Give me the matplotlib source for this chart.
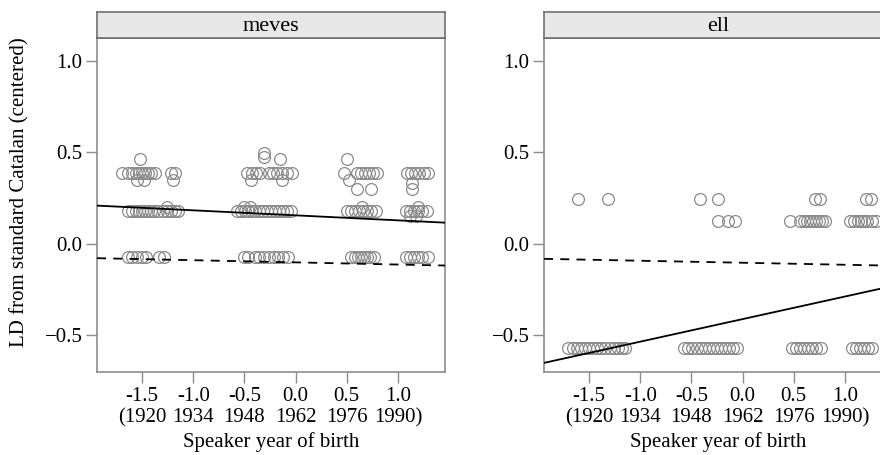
import numpy as np
import matplotlib
matplotlib.use("Agg")
import matplotlib.pyplot as plt

plt.rcParams['font.family'] = ['Liberation Serif', 'DejaVu Serif']

panel_titles = ["meves", "ell"]

xtick_vals = [-1.5, -1.0, -0.5, 0.0, 0.5, 1.0]
xtick_labels = ["-1.5\n(1920", "-1.0\n1934", "-0.5\n1948", "0.0\n1962", "0.5\n1976", "1.0\n1990)"]
ytick_vals = [-0.5, 0.0, 0.5, 1.0]
ytick_labels = ["\u22120.5", "0.0", "0.5", "1.0"]

# meves: points grouped by LD level (y value -> x values)
meves_rows = {
    0.495: [-0.31],
    0.475: [-0.31],
    0.464: [-1.52, -0.15, 0.50],
    0.386: [-1.70, -1.64, -1.60, -1.56, -1.53, -1.50, -1.47, -1.44, -1.41, -1.37,
            -1.22, -1.18, -0.47, -0.43, -0.39, -0.35, -0.26, -0.22, -0.18, -0.13,
            -0.08, -0.03, 0.47, 0.60, 0.64, 0.68, 0.72, 0.76, 0.80,
            1.09, 1.13, 1.17, 1.21, 1.25, 1.29],
    0.350: [-1.55, -1.48, -1.20, -0.44, -0.13, 0.52],
    0.330: [1.14],
    0.300: [0.60, 0.74, 1.14],
    0.200: [-1.26, -0.50, -0.45, 0.65, 1.20],
    0.180: [-1.64, -1.60, -1.56, -1.53, -1.50, -1.47, -1.44, -1.41, -1.38, -1.34,
            -1.30, -1.26, -1.22, -1.18, -1.15,
            -0.57, -0.53, -0.49, -0.46, -0.43, -0.40, -0.36, -0.32, -0.28, -0.24,
            -0.20, -0.16, -0.12, -0.08, -0.04,
            0.50, 0.54, 0.58, 0.62, 0.66, 0.70, 0.74, 0.79,
            1.08, 1.12, 1.16, 1.20, 1.24, 1.28],
    0.150: [1.12, 1.18],
    -0.069: [-1.64, -1.60, -1.55, -1.50, -1.46, -1.33, -1.29,
             -0.50, -0.46, -0.40, -0.36, -0.31, -0.26, -0.21, -0.17, -0.12, -0.07,
             0.54, 0.58, 0.61, 0.64, 0.67, 0.70, 0.73, 0.77,
             1.08, 1.12, 1.16, 1.20, 1.24, 1.29],
}

# ell
ell_rows = {
    0.245: [-1.61, -1.31, -0.42, -0.24, 0.71, 0.76, 1.21, 1.25],
    0.125: [-0.24, -0.14, -0.07, 0.46, 0.56, 0.60, 0.63, 0.66, 0.69, 0.72, 0.75,
            0.78, 0.81, 1.05, 1.09, 1.13, 1.16, 1.19, 1.22, 1.26, 1.30],
    -0.570: [-1.71, -1.66, -1.62, -1.58, -1.54, -1.50, -1.46, -1.42, -1.38, -1.34,
             -1.30, -1.26, -1.22, -1.18, -1.15,
             -0.57, -0.53, -0.49, -0.45, -0.41, -0.37, -0.33, -0.29, -0.25, -0.21,
             -0.17, -0.13, -0.09, -0.05,
             0.48, 0.52, 0.56, 0.60, 0.64, 0.68, 0.72, 0.77,
             1.07, 1.11, 1.15, 1.19, 1.23, 1.26],
}

# fitted lines (intercept, slope): word-specific (solid) and overall (dashed)
fit_solid = [(0.156, -0.0274), (-0.411, 0.1233)]
fit_dashed = [(-0.101, -0.0118), (-0.103, -0.0110)]

xlim = (-1.94, 1.46)
ylim = (-0.70, 1.125)

fig = plt.figure(figsize=(8.8, 4.55), dpi=100)
W, H = 880, 455
frame_col = "#8c8c8c"
pt_col = "#8a8a8a"

lefts = [97, 544]
pw = 348
top, bottom, strip_top = 38, 372, 12

for i, rows in enumerate([meves_rows, ell_rows]):
    ax = fig.add_axes([lefts[i] / W, 1 - bottom / H, pw / W, (bottom - top) / H])
    xs, ys = [], []
    for yv, xv in rows.items():
        xs += xv
        ys += [yv] * len(xv)
    ax.plot(xs, ys, 'o', mfc='none', mec=pt_col, mew=0.9, ms=8.5, zorder=2)

    xx = np.array(xlim)
    a, b = fit_solid[i]
    ax.plot(xx, a + b * xx, color='black', lw=1.3, zorder=3)
    a, b = fit_dashed[i]
    ax.plot(xx, a + b * xx, color='black', lw=1.3, ls=(0, (5, 4)), zorder=3)

    ax.set_xlim(xlim)
    ax.set_ylim(ylim)
    ax.set_xticks(xtick_vals)
    ax.set_xticklabels(xtick_labels, fontsize=15, linespacing=1.2)
    ax.set_yticks(ytick_vals)
    ax.set_yticklabels(ytick_labels, fontsize=15)
    ax.tick_params(axis='both', direction='out', length=8, width=1, color=frame_col, pad=2.5)
    for sp in ax.spines.values():
        sp.set_color(frame_col)
        sp.set_linewidth(1.2)
    ax.spines['top'].set_color('#555555')
    ax.text(0.5, (bottom - 442) / (bottom - top), "Speaker year of birth",
            transform=ax.transAxes, ha='center', va='center', fontsize=15)

    sax = fig.add_axes([lefts[i] / W, 1 - top / H, pw / W, (top - strip_top) / H])
    sax.set_facecolor('#e8e8e8')
    sax.set_xticks([])
    sax.set_yticks([])
    for sp in sax.spines.values():
        sp.set_color('#707070')
        sp.set_linewidth(1.2)
    sax.text(0.5, 0.45, panel_titles[i], transform=sax.transAxes,
             ha='center', va='center', fontsize=16)

fig.text(20 / W, 1 - 192 / H, "LD from standard Catalan (centered)",
         rotation=90, ha='center', va='center', fontsize=15)

fig.savefig("out.png", dpi=100)
